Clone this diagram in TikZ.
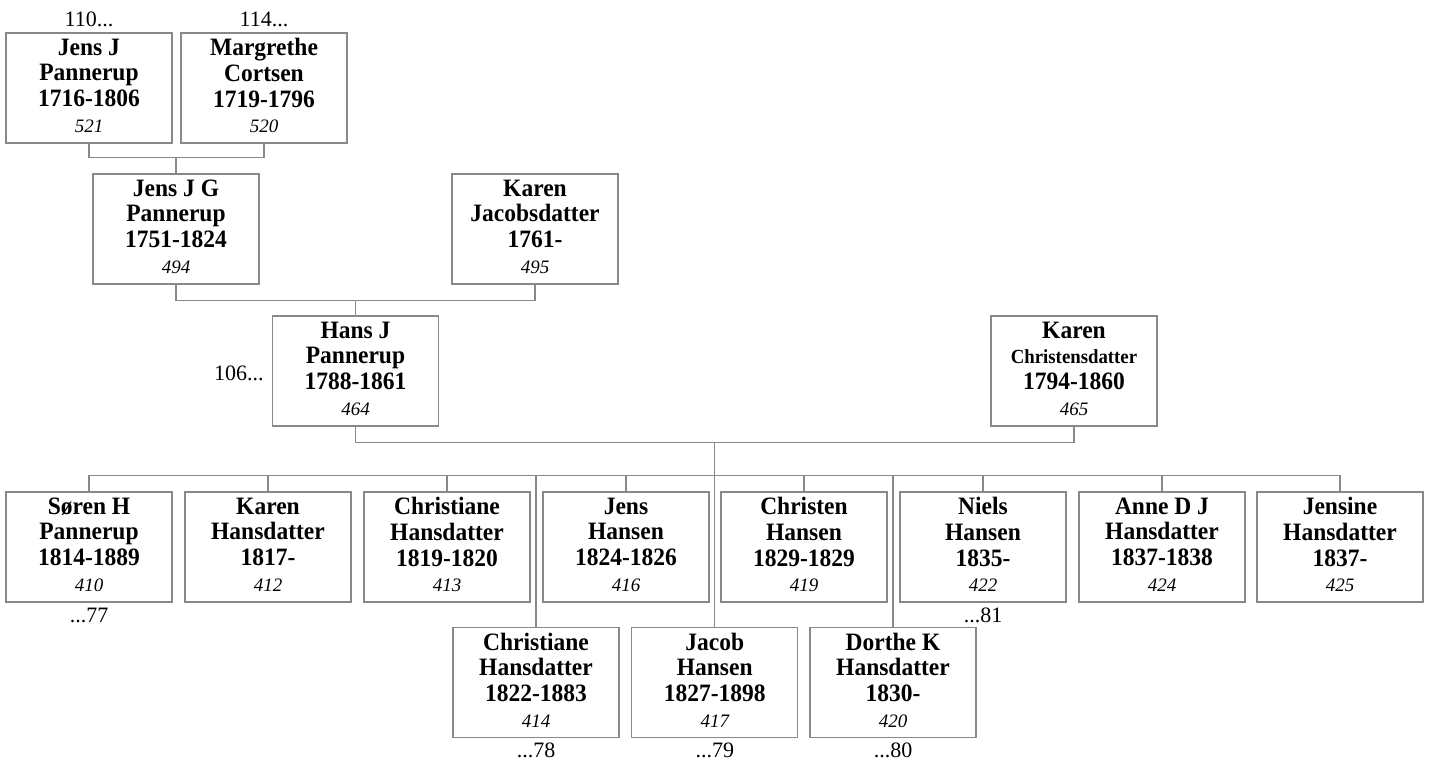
\documentclass[tikz,border=0pt]{standalone}
\usepackage{fontspec}
\setmainfont{Liberation Serif}
\newfontfamily\namefont[FakeStretch=0.94]{Liberation Serif}
\definecolor{linegray}{RGB}{136,136,136}
\newcommand{\pid}[1]{\\{\rmfamily\fontsize{19}{25.7}\selectfont\mdseries\itshape #1\rule[-5pt]{0pt}{0pt}}}
\newcommand{\smallname}[1]{{\fontsize{20}{25.7}\selectfont #1}}
\begin{document}
\begin{tikzpicture}[x=1pt,y=-1pt,
  person/.style={draw=linegray, line width=1.3pt, fill=white, minimum width=166pt, minimum height=110pt, inner sep=0pt, align=center, font=\namefont\fontsize{25}{25.7}\selectfont\bfseries},
  link/.style={draw=linegray, line width=1.3pt},
  ref/.style={font=\fontsize{22}{24}\selectfont, inner sep=0pt}]
\useasboundingbox (0,0) rectangle (1429,761);
% generation 1
\node[person] (p521) at (89,88) {Jens J\\Pannerup\\1716-1806\pid{521}};
\node[person] (p520) at (264,88) {Margrethe\\Cortsen\\1719-1796\pid{520}};
% generation 2
\node[person] (p494) at (176,229) {Jens J G\\Pannerup\\1751-1824\pid{494}};
\node[person] (p495) at (535,229) {Karen\\Jacobsdatter\\1761-\pid{495}};
% generation 3
\node[person] (p464) at (355.5,371) {Hans J\\Pannerup\\1788-1861\pid{464}};
\node[person] (p465) at (1074,371) {Karen\\\smallname{Christensdatter}\\1794-1860\pid{465}};
% children
\node[person] (c410) at (89,547) {Søren H\\Pannerup\\1814-1889\pid{410}};
\node[person] (c412) at (268,547) {Karen\\Hansdatter\\1817-\pid{412}};
\node[person] (c413) at (447,547) {Christiane\\Hansdatter\\1819-1820\pid{413}};
\node[person] (c416) at (626,547) {Jens\\Hansen\\1824-1826\pid{416}};
\node[person] (c419) at (804,547) {Christen\\Hansen\\1829-1829\pid{419}};
\node[person] (c422) at (983,547) {Niels\\Hansen\\1835-\pid{422}};
\node[person] (c424) at (1162,547) {Anne D J\\Hansdatter\\1837-1838\pid{424}};
\node[person] (c425) at (1340,547) {Jensine\\Hansdatter\\1837-\pid{425}};
\node[person] (c414) at (536,682.5) {Christiane\\Hansdatter\\1822-1883\pid{414}};
\node[person] (c417) at (714.75,682.5) {Jacob\\Hansen\\1827-1898\pid{417}};
\node[person] (c420) at (893,682.5) {Dorthe K\\Hansdatter\\1830-\pid{420}};
% reference labels
\node[ref, anchor=base] (r110) at ([yshift=6pt]p521.north) {110...};
\node[ref, anchor=base] (r114) at ([yshift=6pt]p520.north) {114...};
\node[ref, anchor=base east] (r106) at ([xshift=-8pt,yshift=-9pt]p464.west) {106...};
\node[ref, anchor=north] (r77) at ([yshift=-5pt]c410.south) {...77};
\node[ref, anchor=north] (r81) at ([yshift=-5pt]c422.south) {...81};
\node[ref, anchor=north] (r78) at ([yshift=-5pt]c414.south) {...78};
\node[ref, anchor=north] (r79) at ([yshift=-5pt]c417.south) {...79};
\node[ref, anchor=north] (r80) at ([yshift=-5pt]c420.south) {...80};
% connectors
\draw[link] (p521.south) -- ++(0,14) coordinate (a1) -| (p520.south);
\draw[link] (p494.north) -- (p494.north |- a1);
\draw[link] (p494.south) -- ++(0,16) coordinate (a2) -| (p495.south);
\draw[link] (p464.north) -- (p464.north |- a2);
\draw[link] (p464.south) -- ++(0,16) coordinate (a3) -| (p465.south);
\draw[link] (c417.north) -- (c417.north |- a3);
\draw[link] (c410.north) -- ++(0,-16) coordinate (b1) -| (c425.north);
\foreach \c in {c412,c413,c416,c419,c422,c424,c414,c420}
  \draw[link] (\c.north) -- (\c.north |- b1);
\end{tikzpicture}
\end{document}
